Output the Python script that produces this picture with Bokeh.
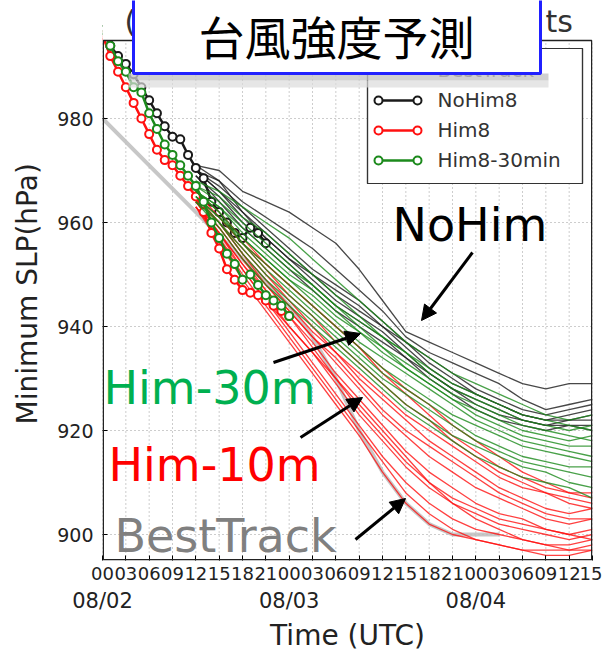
from bokeh.plotting import figure
from bokeh.models import (FixedTicker, LinearAxis, Range1d, BoxAnnotation, Label, Arrow, NormalHead)
from bokeh.embed import file_html
from bokeh.resources import INLINE

# ---------------- data ----------------
TICK_HOURS = [0, 3, 6, 9, 12, 15, 18, 21, 24, 27, 30, 33, 36, 39, 42, 45, 48, 51, 54, 57, 60, 63]
TICK_LABELS = ["00", "03", "06", "09", "12", "15", "18", "21",
               "00", "03", "06", "09", "12", "15", "18", "21",
               "00", "03", "06", "09", "12", "15"]
DATE_HOURS = [0, 24, 48]
DATE_LABELS = ["08/02", "08/03", "08/04"]
Y_TICKS = [900, 920, 940, 960, 980]
Y_MIN, Y_MAX = 895, 995
SERIES_NAMES = ["BestTrack", "NoHim8", "Him8", "Him8-30min"]

BEST_HOURS = [0, 6, 12, 18, 24, 27, 30, 33, 36, 39, 42, 45, 48, 51]
BEST_SLP = [980, 971, 962, 953, 944, 938, 930, 920, 912, 906, 902, 900, 900, 900]

NOHIM_ANA_HOURS = [0, 1, 2, 3, 4, 5, 6, 7, 8, 9, 10, 11, 12, 13, 14, 15, 16, 17, 18, 19, 20, 21]
NOHIM_ANA = [997, 994, 992, 990.5, 988.5, 986, 983.5, 981, 978.5, 976.5, 976, 973,
             970.5, 968.5, 964, 962, 960, 958, 957, 959, 958, 956]

HIM_ANA_HOURS = [0, 1, 2, 3, 4, 5, 6, 7, 8, 9, 10, 11, 12, 13, 14, 15, 16, 17, 18, 19,
                 20, 21, 22, 23, 24]
HIM8_ANA = [996, 992, 989, 986, 983, 980, 977, 974, 972, 971, 969, 967, 965, 962, 958,
            955, 951, 949, 947, 946.5, 946, 945, 944, 943, 942]
HIM30_ANA = [997, 994, 991, 989, 986, 985, 981, 978, 975, 973, 971, 969, 967, 964, 960,
             957, 954, 952, 949, 950, 948, 946, 945, 944, 942]

FC_HOURS = [12, 15, 18, 21, 24, 27, 30, 33, 36, 39, 42, 45, 48, 51, 54, 57, 60, 63]

NOHIM_FC = [
    [971, 970, 966, 964, 962, 959, 956, 951, 945, 939, 937, 935, 933, 931, 929, 928, 929, 929],
    [971, 968, 964, 961, 958, 955, 951, 947, 943, 938, 935, 933, 931, 929, 926, 924, 925, 926],
    [970, 967, 963, 959, 955, 951, 948, 945, 941, 937, 934, 931, 928, 926, 924, 923, 924, 925],
    [970, 966, 962, 958, 954, 950, 946, 943, 940, 936, 932, 929, 927, 925, 923, 922, 923, 924],
    [970, 968, 962, 957, 953, 949, 945, 942, 939, 935, 931, 928, 925, 923, 922, 921, 922, 922],
    [969, 965, 960, 956, 952, 948, 944, 941, 938, 934, 930, 927, 924, 922, 921, 920, 921, 920],
    [970, 966, 961, 957, 953, 950, 947, 944, 940, 937, 933, 930, 927, 925, 923, 922, 922, 923],
    [969, 964, 959, 955, 951, 947, 943, 940, 937, 934, 931, 928, 926, 924, 922, 921, 921, 921],
]

HIM8_FC = [
    [966, 962, 957, 952, 948, 944, 940, 936, 932, 928, 925, 921, 918, 915, 912, 910, 908, 907],
    [966, 961, 956, 951, 946, 942, 937, 933, 929, 925, 922, 918, 915, 912, 910, 908, 907, 906],
    [965, 960, 955, 950, 945, 940, 935, 930, 926, 922, 918, 915, 912, 909, 907, 905, 904, 905],
    [965, 960, 954, 948, 943, 938, 933, 928, 923, 919, 915, 912, 909, 907, 905, 903, 902, 903],
    [964, 959, 953, 947, 942, 937, 931, 926, 921, 916, 912, 909, 906, 904, 903, 901, 900, 901],
    [964, 958, 952, 946, 940, 935, 929, 923, 918, 913, 909, 906, 904, 902, 901, 900, 899, 900],
    [964, 958, 951, 945, 939, 933, 927, 921, 915, 910, 906, 903, 901, 900, 899, 898, 898, 899],
    [963, 957, 950, 944, 938, 932, 926, 920, 914, 908, 904, 901, 899, 898, 897, 897, 897, 898],
    [963, 957, 951, 945, 940, 935, 930, 925, 920, 915, 910, 906, 903, 901, 899, 898, 897, 897],
    [963, 956, 949, 943, 937, 931, 925, 919, 912, 906, 902, 900, 899, 898, 897, 896, 896, 897],
    [965, 961, 956, 952, 948, 944, 940, 936, 931, 927, 923, 919, 916, 913, 911, 909, 908, 908],
    [964, 959, 953, 948, 943, 938, 934, 929, 924, 920, 917, 914, 911, 908, 906, 904, 903, 903],
    [964, 960, 954, 949, 944, 939, 935, 931, 927, 923, 920, 917, 914, 911, 909, 908, 906, 905],
    [963, 958, 952, 947, 942, 936, 930, 924, 919, 914, 910, 907, 905, 903, 902, 901, 900, 899],
]

HIM30_FC = [
    [968, 966, 963, 960, 957, 953, 949, 945, 941, 937, 934, 931, 929, 927, 925, 923, 922, 923],
    [967, 965, 961, 958, 954, 950, 946, 942, 938, 935, 932, 929, 927, 925, 923, 922, 921, 920],
    [967, 964, 960, 956, 952, 948, 944, 940, 936, 933, 930, 927, 925, 923, 921, 920, 919, 918],
    [966, 963, 958, 954, 950, 947, 943, 939, 935, 932, 929, 926, 923, 921, 919, 918, 917, 917],
    [966, 962, 957, 953, 949, 945, 941, 937, 934, 931, 928, 925, 922, 920, 918, 917, 916, 915],
    [966, 962, 956, 952, 948, 944, 940, 936, 932, 929, 926, 923, 921, 919, 917, 916, 915, 914],
    [965, 961, 956, 951, 947, 943, 939, 935, 931, 928, 925, 922, 919, 917, 915, 914, 913, 913],
    [965, 960, 955, 950, 946, 942, 938, 934, 930, 927, 924, 921, 918, 916, 914, 913, 912, 911],
    [964, 960, 954, 949, 945, 941, 937, 933, 929, 925, 922, 919, 917, 915, 913, 912, 910, 909],
    [964, 959, 953, 948, 944, 940, 936, 932, 928, 924, 921, 918, 915, 913, 911, 910, 909, 907],
    [966, 963, 959, 955, 951, 948, 944, 941, 938, 935, 931, 928, 926, 924, 922, 921, 920, 921],
    [965, 961, 957, 953, 949, 946, 942, 939, 936, 932, 929, 926, 924, 922, 920, 919, 918, 919],
]

# ---------------- layout / styles ----------------
FONT = "DejaVu Sans"
C_BEST = "#bdbdbd"
C_BLACK = "#1a1a1a"
C_RED = "#ff1010"
C_GREEN = "#1c8a1c"
FRAME_L, FRAME_W = 102, 490          # px
PX_PER_HPA = 5.2
TOP_EXTRA = 40 / PX_PER_HPA          # frame reaches canvas top so the slide title can overlap
Y_TOP = Y_MAX + TOP_EXTRA

def hx(px):   # page px -> hour
    return (px - FRAME_L) * 63.0 / FRAME_W

def vy(py):   # page px -> hPa
    return Y_TOP - py / PX_PER_HPA

p = figure(width=602, height=656, x_range=Range1d(0, 63), y_range=Range1d(Y_MIN, Y_TOP),
           output_backend="svg", toolbar_location=None,
           min_border_left=FRAME_L, min_border_right=10, min_border_top=0, min_border_bottom=96)
p.background_fill_color = "white"
p.border_fill_color = "white"
p.outline_line_color = None

# axes
xa = p.xaxis[0]
xa.ticker = FixedTicker(ticks=TICK_HOURS)
xa.major_label_overrides = dict(zip(TICK_HOURS, TICK_LABELS))
xa.major_label_text_font = FONT
xa.major_label_text_font_size = "18px"
xa.major_label_text_color = "#222222"
xa.major_tick_in = 5
xa.major_tick_out = 0
xa.minor_tick_in = 0
xa.minor_tick_out = 0
xa.major_label_standoff = 6
xa.axis_line_color = None

date_axis = LinearAxis(ticker=FixedTicker(ticks=DATE_HOURS),
                       major_label_overrides=dict(zip(DATE_HOURS, DATE_LABELS)))
date_axis.major_tick_in = 0
date_axis.major_tick_out = 0
date_axis.minor_tick_in = 0
date_axis.minor_tick_out = 0
date_axis.axis_line_color = None
date_axis.major_label_text_font = FONT
date_axis.major_label_text_font_size = "21px"
date_axis.major_label_text_color = "#222222"
date_axis.major_label_standoff = 6
date_axis.axis_label = "Time (UTC)"
date_axis.axis_label_text_font = FONT
date_axis.axis_label_text_font_size = "28px"
date_axis.axis_label_text_font_style = "normal"
date_axis.axis_label_text_color = "#222222"
date_axis.axis_label_standoff = 3
p.add_layout(date_axis, "below")

ya = p.yaxis[0]
ya.ticker = FixedTicker(ticks=Y_TICKS)
ya.major_label_text_font = FONT
ya.major_label_text_font_size = "19px"
ya.major_label_text_color = "#222222"
ya.major_tick_in = 5
ya.major_tick_out = 0
ya.minor_tick_in = 0
ya.minor_tick_out = 0
ya.major_label_standoff = 9
ya.axis_line_color = None
ya.axis_label = "Minimum SLP(hPa)\u00a0\u00a0\u00a0"
ya.axis_label_text_font = FONT
ya.axis_label_text_font_size = "28px"
ya.axis_label_text_font_style = "normal"
ya.axis_label_text_color = "#222222"
ya.axis_label_standoff = 10

# grid
p.xgrid.visible = False
p.ygrid[0].ticker = FixedTicker(ticks=Y_TICKS)
p.ygrid[0].grid_line_color = "#9a9a9a"
p.ygrid[0].grid_line_dash = "1 3"
p.ygrid[0].grid_line_width = 1
p.segment(x0=TICK_HOURS, y0=[Y_MIN] * len(TICK_HOURS), x1=TICK_HOURS, y1=[Y_MAX] * len(TICK_HOURS),
          line_color="#9a9a9a", line_dash="1 3", line_width=1)

# ---------------- data glyphs ----------------
p.line(BEST_HOURS, BEST_SLP, line_color=C_BEST, line_width=4, line_alpha=0.85)

groups = [
    (NOHIM_ANA_HOURS, NOHIM_ANA, NOHIM_FC, C_BLACK),
    (HIM_ANA_HOURS, HIM8_ANA, HIM8_FC, C_RED),
    (HIM_ANA_HOURS, HIM30_ANA, HIM30_FC, C_GREEN),
]
for ana_h, ana_v, fc, col in groups:
    p.multi_line([FC_HOURS] * len(fc), fc, line_color=col, line_width=1.3, line_alpha=0.8)
    p.line(ana_h, ana_v, line_color=col, line_width=2.5)
    p.scatter(ana_h, ana_v, marker="circle", size=8, fill_color="white", line_color=col, line_width=2)

# ---------------- legend (drawn so that the slide title can overlap it) ----------------
LEG_L, LEG_R, LEG_T, LEG_B = 367, 582, 48, 183
ROW_Y = [70, 100, 130, 160]
SAMPLE_X0, SAMPLE_X1, LABEL_X = 378, 417, 437
leg_colors = [C_BEST, C_BLACK, C_RED, C_GREEN]

p.quad(left=[hx(LEG_L)], right=[hx(LEG_R)], top=[vy(LEG_T)], bottom=[vy(LEG_B)],
       fill_color="white", line_color="#333333", line_width=1.2)
for i, (name, col) in enumerate(zip(SERIES_NAMES, leg_colors)):
    yy = vy(ROW_Y[i])
    if i == 0:
        p.line([hx(SAMPLE_X0), hx(SAMPLE_X1)], [yy, yy], line_color=col, line_width=4, line_alpha=0.85)
    else:
        p.line([hx(SAMPLE_X0), hx(SAMPLE_X1)], [yy, yy], line_color=col, line_width=2.5)
        p.scatter([hx(SAMPLE_X0), hx(SAMPLE_X1)], [yy, yy], marker="circle", size=8,
                  fill_color="white", line_color=col, line_width=2)

# mask anything above the data area
p.add_layout(BoxAnnotation(left=-1, right=64, bottom=Y_MAX, top=Y_TOP + 10,
                           fill_color="white", fill_alpha=1, line_color=None, line_alpha=0))
# plot frame
p.add_layout(BoxAnnotation(left=0.1, right=62.9, bottom=Y_MIN + 0.15, top=Y_MAX,
                           fill_alpha=0, line_color="#222222", line_alpha=1, line_width=1.5))
# legend frame top edge (covered by mask above otherwise)
p.add_layout(BoxAnnotation(left=hx(LEG_L), right=hx(LEG_R), bottom=vy(LEG_B), top=vy(LEG_T),
                           fill_alpha=0, line_color="#333333", line_alpha=1, line_width=1.2))

# ---------------- annotations ----------------
BASE_SHIFT = 0.37   # em: measured offset of Bokeh alphabetic baseline

def txt(x, y, s, color, size=46, font=FONT, align="left", baseline="alphabetic", level="annotation"):
    if baseline == "alphabetic":
        y = y + BASE_SHIFT * size / PX_PER_HPA
    p.add_layout(Label(x=x, y=y, text=s, text_color=color, text_font=font,
                       text_font_size=f"{size}px", text_align=align,
                       text_baseline=baseline, level=level))

def arrow(x0, y0, x1, y1):
    p.add_layout(Arrow(end=NormalHead(size=15, fill_color="black", line_color="black"),
                       x_start=x0, y_start=y0, x_end=x1, y_end=y1,
                       line_color="black", line_width=3))

# legend labels
for i, name in enumerate(SERIES_NAMES):
    txt(hx(LABEL_X), vy(ROW_Y[i] + 7), name, "#333333", size=20)

txt(hx(392), vy(242), "NoHim", "black")
txt(hx(103), vy(405), "Him-30m", "#00b050")
txt(hx(108), vy(482), "Him-10m", "#ff0000")
txt(hx(114), vy(553), "BestTrack", "#808080")

arrow(hx(472), vy(252), hx(421), vy(320))
arrow(hx(273), vy(362), hx(360), vy(333))
arrow(hx(300), vy(437), hx(362), vy(397))
arrow(hx(355), vy(539), hx(405), vy(498))

# partially hidden original title
txt(hx(124), vy(32), "(", "#333333", size=30)
txt(hx(545), vy(32), "ts", "#333333", size=30)

# slide title box with shadow
p.add_layout(BoxAnnotation(left=hx(128), right=hx(548), bottom=vy(87), top=vy(80),
                           fill_color="#dcdcdc", fill_alpha=0.7, line_color=None, line_alpha=0,
                           level="overlay"))
p.add_layout(BoxAnnotation(left=hx(128), right=hx(548), bottom=vy(80), top=vy(73),
                           fill_color="#c4c4c4", fill_alpha=0.8, line_color=None, line_alpha=0,
                           level="overlay"))
p.add_layout(BoxAnnotation(left=hx(133), right=hx(540), bottom=vy(73), top=vy(-20),
                           fill_color="white", fill_alpha=1, line_color="#2020ff", line_alpha=1,
                           line_width=3, level="overlay"))
p.add_layout(Label(x=hx(336), y=vy(34), text="台風強度予測", text_color="black",
                   text_font="Noto Sans CJK JP", text_font_size="46px",
                   text_align="center", text_baseline="middle", level="overlay"))

open("out.html", "w").write(file_html(p, INLINE))
